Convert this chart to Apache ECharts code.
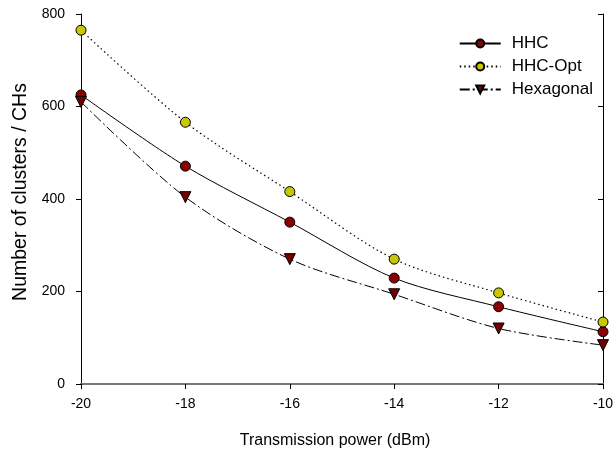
<!DOCTYPE html>
<html>
<head>
<meta charset="utf-8">
<script src="https://cdn.jsdelivr.net/npm/echarts@6/dist/echarts.min.js"></script>
<style>html,body{margin:0;padding:0;background:#fff}#c{width:613px;height:451px}</style>
</head>
<body>
<div id="c"></div>
<script>
var xValues = [-20, -18, -16, -14, -12, -10];
var hhc = [625, 471, 350, 229, 167, 113];
var hhcOpt = [765, 566, 416, 270, 197, 134];
var hexagonal = [610, 404, 270, 194, 120, 84];

function pairs(v){ return xValues.map(function(x,i){ return [x, v[i]]; }); }
var font = 'Liberation Sans, Arial, sans-serif';
var chart = echarts.init(document.getElementById('c'));
chart.setOption({
  animation: false,
  backgroundColor: '#fff',
  grid: {left: 81, right: 10, top: 14, bottom: 67, containLabel: false, outerBoundsMode: 'none'},
  legend: {
    orient: 'vertical', right: 20, top: 35, padding: 0, itemWidth: 41, itemHeight: 10, itemGap: 6,
    textStyle: {fontFamily: font, fontSize: 17, color: '#000', padding: [0, 0, 0, 6]},
    data: ['HHC', 'HHC-Opt', 'Hexagonal']
  },
  xAxis: [{
    type: 'value', min: -20, max: -10, interval: 2,
    name: 'Transmission power (dBm)', nameLocation: 'middle', nameGap: 49,
    nameTextStyle: {fontFamily: font, fontSize: 16, color: '#000', padding: [0, 14, 0, 0]},
    axisLine: {lineStyle: {color: '#777', width: 2}},
    axisTick: {length: 5, lineStyle: {color: '#000'}},
    axisLabel: {fontFamily: font, fontSize: 14, color: '#000', margin: 13},
    splitLine: {show: false}
  }, {
    type: 'value', position: 'top', min: -20, max: -10, interval: 2,
    axisLine: {show: true, lineStyle: {color: '#777', width: 2}},
    axisTick: {show: false}, axisLabel: {show: false}, splitLine: {show: false}
  }],
  yAxis: [{
    type: 'value', min: 0, max: 800, interval: 200,
    name: 'Number of clusters / CHs', nameLocation: 'middle', nameGap: 50,
    nameTextStyle: {fontFamily: font, fontSize: 19.5, color: '#000', padding: [0, 0, 0, 14]},
    axisLine: {show: true, lineStyle: {color: '#000', width: 1}},
    axisTick: {show: true, length: 5, lineStyle: {color: '#000'}},
    axisLabel: {fontFamily: font, fontSize: 14, color: '#000', margin: 16},
    splitLine: {show: false}
  }, {
    type: 'value', position: 'right', min: 0, max: 800, interval: 200,
    axisLine: {show: true, lineStyle: {color: '#000', width: 1}},
    axisTick: {show: true, inside: true, length: 5, lineStyle: {color: '#000'}},
    axisLabel: {show: false}, splitLine: {show: false}
  }],
  series: [{
    name: 'HHC', type: 'line', smooth: 0.3, data: pairs(hhc),
    symbol: 'circle', symbolSize: 10,
    lineStyle: {color: '#000', width: 1, type: 'solid'},
    itemStyle: {color: '#8b0000', borderColor: '#000', borderWidth: 1}
  }, {
    name: 'HHC-Opt', type: 'line', smooth: 0.3, data: pairs(hhcOpt),
    symbol: 'circle', symbolSize: 10,
    lineStyle: {color: '#000', width: 1.2, type: [1.5, 3]},
    itemStyle: {color: '#c8c800', borderColor: '#000', borderWidth: 1}
  }, {
    name: 'Hexagonal', type: 'line', smooth: 0.3, data: pairs(hexagonal),
    symbol: 'triangle', symbolSize: 11, symbolRotate: 180,
    lineStyle: {color: '#000', width: 1, type: [10, 3, 2, 3]},
    itemStyle: {color: '#700000', borderColor: '#000', borderWidth: 1}
  }]
});
</script>
</body>
</html>
